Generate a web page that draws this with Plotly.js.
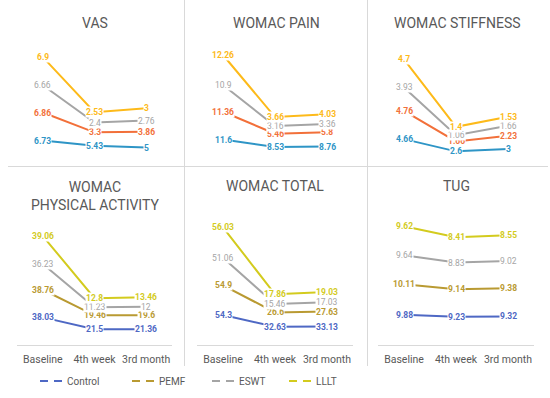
<!DOCTYPE html>
<html><head><meta charset="utf-8">
<script src="https://cdn.plot.ly/plotly-3.0.1.min.js"></script>
<style>html,body{margin:0;padding:0;background:#fff}#chart{width:550px;height:398px}</style>
</head><body><div id="chart"></div>
<script>
// ---- data ----
const categories = ['Baseline', '4th week', '3rd month'];
const seriesNames = ['Control', 'PEMF', 'ESWT', 'LLLT'];
const panelTitles = ['VAS', 'WOMAC PAIN', 'WOMAC STIFFNESS', 'WOMAC<br>PHYSICAL ACTIVITY', 'WOMAC TOTAL', 'TUG'];

const vasControl = [6.73, 5.43, 5];
const vasPEMF    = [6.86, 3.3, 3.86];
const vasESWT    = [6.66, 2.4, 2.76];
const vasLLLT    = [6.9, 2.53, 3];

const painControl = [11.6, 8.53, 8.76];
const painPEMF    = [11.36, 5.46, 5.8];
const painESWT    = [10.9, 3.16, 3.36];
const painLLLT    = [12.26, 3.66, 4.03];

const stiffControl = [4.66, 2.6, 3];
const stiffPEMF    = [4.76, 1.66, 2.23];
const stiffESWT    = [3.93, 1.06, 1.66];
const stiffLLLT    = [4.7, 1.4, 1.53];

const paControl = [38.03, 21.5, 21.36];
const paPEMF    = [38.76, 19.46, 19.6];
const paESWT    = [36.23, 11.23, 12];
const paLLLT    = [39.06, 12.8, 13.46];

const totalControl = [54.3, 32.63, 33.13];
const totalPEMF    = [54.9, 26.6, 27.63];
const totalESWT    = [51.06, 15.46, 17.03];
const totalLLLT    = [56.03, 17.86, 19.03];

const tugControl = [9.88, 9.23, 9.32];
const tugPEMF    = [10.11, 9.14, 9.38];
const tugESWT    = [9.64, 8.83, 9.02];
const tugLLLT    = [9.62, 8.41, 8.55];

const panelData = [
  [vasControl, vasPEMF, vasESWT, vasLLLT],
  [painControl, painPEMF, painESWT, painLLLT],
  [stiffControl, stiffPEMF, stiffESWT, stiffLLLT],
  [paControl, paPEMF, paESWT, paLLLT],
  [totalControl, totalPEMF, totalESWT, totalLLLT],
  [tugControl, tugPEMF, tugESWT, tugLLLT]
];

// ---- styling / layout ----
const W = 550, H = 398;
const px = x => x / W;
const py = y => 1 - y / H;
const topColors = ['#2E95C6', '#F2703A', '#A5A5A5', '#FDBA1A'];
const botColors = ['#4E68C4', '#B99A32', '#A5A5A5', '#D3CB1E'];
const xDom = [[17, 172], [197, 353], [378, 534]];
const yDomTop = [45.5, 168], yDomBot = [209, 344.5];
const yRanges = [[0, 30], [0, 50], [-0.2, 20.4], [0, 190], [0, 250], [0, 45]];
const titlePos = [[95, 23], [276, 23], [457, 23], [95, 196], [275, 186], [456, 186]];
const FONT = 'Roboto, "Open Sans", sans-serif';
const TXT = '#595959';

const traces = [];
const annotations = [];
const layout = {
  width: W, height: H,
  margin: {l: 0, r: 0, t: 0, b: 0},
  paper_bgcolor: '#fff', plot_bgcolor: 'rgba(0,0,0,0)',
  font: {family: FONT, color: TXT},
  showlegend: true,
  hovermode: false,
  shapes: [
    {type: 'line', xref: 'paper', yref: 'paper', x0: px(184.5), x1: px(184.5), y0: py(0), y1: py(366), line: {color: '#D9D9D9', width: 1}},
    {type: 'line', xref: 'paper', yref: 'paper', x0: px(367.5), x1: px(367.5), y0: py(0), y1: py(366), line: {color: '#D9D9D9', width: 1}},
    {type: 'line', xref: 'paper', yref: 'paper', x0: px(8), x1: px(548), y0: py(166.5), y1: py(166.5), line: {color: '#D9D9D9', width: 1}}
  ]
};

panelData.forEach((series, p) => {
  const row = p < 3 ? 0 : 1;
  const col = p % 3;
  const xa = p === 0 ? 'x' : 'x' + (p + 1);
  const ya = p === 0 ? 'y' : 'y' + (p + 1);
  const xKey = p === 0 ? 'xaxis' : 'xaxis' + (p + 1);
  const yKey = p === 0 ? 'yaxis' : 'yaxis' + (p + 1);
  const yd = row === 0 ? yDomTop : yDomBot;
  const colors = row === 0 ? topColors : botColors;

  layout[xKey] = {
    domain: [px(xDom[col][0]), px(xDom[col][1])],
    anchor: ya, type: 'category', range: [-0.5, 2.5], fixedrange: true,
    showgrid: false, zeroline: false, ticks: '',
    showline: row === 1, linecolor: '#D9D9D9', linewidth: 1,
    showticklabels: row === 1, ticklabelstandoff: 5,
    tickfont: {family: FONT, size: 10.5, color: TXT}
  };
  layout[yKey] = {
    domain: [py(yd[1]), py(yd[0])],
    anchor: xa, range: yRanges[p], fixedrange: true,
    showgrid: false, zeroline: false, showline: false, showticklabels: false, ticks: ''
  };

  // stacked cumulative values (stacked line chart)
  const cum = [];
  series.forEach((vals, s) => {
    cum.push(vals.map((v, i) => v + (s > 0 ? cum[s - 1][i] : 0)));
  });

  series.forEach((vals, s) => {
    traces.push({
      type: 'scatter', mode: 'lines', x: categories, y: cum[s],
      xaxis: xa, yaxis: ya, showlegend: false, hoverinfo: 'skip',
      line: {color: colors[s], width: 2}
    });
  });
  series.forEach((vals, s) => {
    vals.forEach((v, i) => {
      annotations.push({
        xref: xa, yref: ya, x: categories[i], y: cum[s][i],
        text: String(v), showarrow: false, xanchor: 'center', yanchor: 'middle',
        bgcolor: '#ffffff', borderpad: 0,
        font: {family: FONT, size: 8.5, color: colors[s], weight: s === 2 ? 'normal' : 'bold'}
      });
    });
  });

  annotations.push({
    xref: 'paper', yref: 'paper', x: px(titlePos[p][0]), y: py(titlePos[p][1]),
    text: panelTitles[p], showarrow: false, xanchor: 'center', yanchor: 'middle',
    font: {family: FONT, size: 14, color: TXT}
  });
});

// legend: one legend per entry, positioned along the bottom
const legendX = [27, 119, 199, 276];
seriesNames.forEach((name, s) => {
  const key = s === 0 ? 'legend' : 'legend' + (s + 1);
  traces.push({
    type: 'scatter', mode: 'lines', x: [null], y: [null], name: name,
    legend: key, showlegend: true, hoverinfo: 'skip',
    line: {color: botColors[s], width: 2, dash: '0px,8px,8px,6px,8px,100px'}
  });
  layout[key] = {
    x: px(legendX[s]), xanchor: 'left', y: py(381), yanchor: 'middle',
    orientation: 'h', bgcolor: 'rgba(0,0,0,0)', borderwidth: 0,
    font: {family: FONT, size: 10, color: TXT}, itemclick: false, itemdoubleclick: false
  };
});

layout.annotations = annotations;
Plotly.newPlot('chart', traces, layout, {staticPlot: true, displayModeBar: false});
</script>
</body></html>
